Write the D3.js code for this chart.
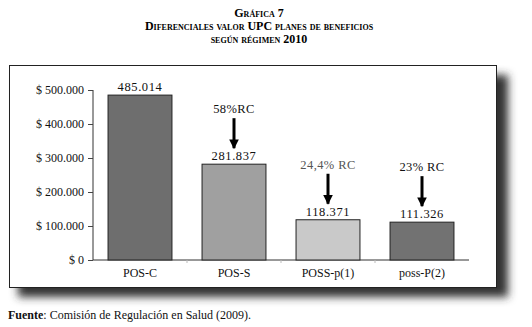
<!DOCTYPE html>
<html>
<head>
<meta charset="utf-8">
<script src="https://cdn.jsdelivr.net/npm/d3@7"></script>
<style>
  body { margin: 0; background: #fff; }
  svg text { font-family: 'Liberation Serif', 'Times New Roman', 'DejaVu Serif', serif !important; }
</style>
</head>
<body>
<svg width="532" height="327"></svg>
<script>
var categories = ["POS-C", "POS-S", "POSS-p(1)", "poss-P(2)"];
var values = [485014, 281837, 118371, 111326];
var valueLabels = ["485.014", "281.837", "118.371", "111.326"];
var notes = [null, "58%RC", "24,4% RC", "23% RC"];
var yTicks = [0, 100000, 200000, 300000, 400000, 500000];
var barColors = ["#6e6e6e", "#a0a0a0", "#c9c9c9", "#727272"];
var noteColors = [null, "#111", "#555", "#111"];

var svg = d3.select("svg"),
    width = +svg.attr("width"),
    height = +svg.attr("height");

svg.append("rect").attr("width", width).attr("height", height).attr("fill", "#fff");

// drop shadow for the frame
var defs = svg.append("defs");
var f = defs.append("filter").attr("id", "blur")
  .attr("x", "-10%").attr("y", "-10%").attr("width", "120%").attr("height", "130%");
f.append("feGaussianBlur").attr("stdDeviation", 4);

defs.append("marker")
  .attr("id", "arrow")
  .attr("viewBox", "0 0 10 10")
  .attr("refX", 9).attr("refY", 5)
  .attr("markerWidth", 3.4).attr("markerHeight", 3.2)
  .attr("markerUnits", "strokeWidth")
  .attr("orient", "auto")
  .append("path").attr("d", "M0,0L10,5L0,10Z").attr("fill", "#000");

// title
var title = svg.append("g").attr("font-weight", "bold").attr("text-anchor", "middle")
  .style("font-variant", "small-caps").attr("font-size", 12);
title.append("text").attr("x", 259).attr("y", 17).text("Gráfica 7");
title.append("text").attr("x", 259).attr("y", 30).text("Diferenciales valor UPC planes de beneficios");
title.append("text").attr("x", 259).attr("y", 43).text("según régimen 2010");

// frame
svg.append("rect").attr("x", 18).attr("y", 75).attr("width", 490).attr("height", 222)
  .attr("fill", "#333").attr("filter", "url(#blur)");
svg.append("rect").attr("x", 9.5).attr("y", 65.5).attr("width", 487).attr("height", 222)
  .attr("fill", "#fff").attr("stroke", "#222").attr("stroke-width", 1);

var x0 = 93, x1 = 469, yBase = 260, yTop = 90;
var x = d3.scaleBand().domain(categories).range([x0, x1]).paddingInner(0.32).paddingOuter(0.16);
var y = d3.scaleLinear().domain([0, 500000]).range([yBase, yTop]);

var fmt = function(d) { return "$ " + d3.format(",")(d).replace(/,/g, "."); };

var yAxis = svg.append("g").attr("transform", "translate(" + x0 + ",0)")
  .call(d3.axisLeft(y).tickValues(yTicks).tickFormat(fmt).tickSize(5).tickPadding(4));
yAxis.select(".domain").attr("stroke", "#333").attr("d", "M0," + yTop + "V" + yBase);
yAxis.selectAll(".tick line").attr("stroke", "#444");
yAxis.selectAll("text").attr("font-size", 12).attr("fill", "#111");

var xAxis = svg.append("g").attr("transform", "translate(0," + yBase + ")")
  .call(d3.axisBottom(x).tickSize(0).tickPadding(8));
xAxis.select(".domain").attr("stroke", "#333").attr("d", "M" + x0 + ",0H" + x1);
xAxis.selectAll("text").attr("font-size", 12).attr("fill", "#111");
// small separators between categories
svg.append("g").selectAll("line").data(categories.slice(1)).enter().append("line")
  .attr("x1", function(d) { return x(d) - x.step() * x.paddingInner() / 2; })
  .attr("x2", function(d) { return x(d) - x.step() * x.paddingInner() / 2; })
  .attr("y1", yBase).attr("y2", yBase + 3).attr("stroke", "#bbb");

svg.append("g").selectAll("rect").data(values).enter().append("rect")
  .attr("x", function(d, i) { return x(categories[i]); })
  .attr("y", function(d) { return y(d); })
  .attr("width", x.bandwidth())
  .attr("height", function(d) { return yBase - y(d); })
  .attr("fill", function(d, i) { return barColors[i]; })
  .attr("stroke", "#222").attr("stroke-width", 1);

svg.append("g").selectAll("text").data(values).enter().append("text")
  .attr("x", function(d, i) { return x(categories[i]) + x.bandwidth() / 2; })
  .attr("y", function(d) { return y(d) - 4; })
  .attr("text-anchor", "middle").attr("font-size", 12.5).attr("fill", "#111")
  .attr("letter-spacing", 0.6)
  .text(function(d, i) { return valueLabels[i]; });

// reduction notes with arrows
var noteG = svg.append("g");
notes.forEach(function(n, i) {
  if (!n) return;
  var cx = x(categories[i]) + x.bandwidth() / 2;
  var top = y(values[i]);
  noteG.append("text").attr("x", cx).attr("y", top - 51)
    .attr("text-anchor", "middle").attr("font-size", 12.5).attr("fill", noteColors[i])
    .attr("letter-spacing", 0.4).text(n);
  noteG.append("line").attr("x1", cx).attr("x2", cx)
    .attr("y1", top - 46).attr("y2", top - 16)
    .attr("stroke", "#000").attr("stroke-width", 3).attr("marker-end", "url(#arrow)");
});

// source
var src = svg.append("text").attr("x", 8).attr("y", 319).attr("font-size", 12).attr("fill", "#111");
src.append("tspan").attr("font-weight", "bold").text("Fuente");
src.append("tspan").text(": Comisión de Regulación en Salud (2009).");
</script>
</body>
</html>
